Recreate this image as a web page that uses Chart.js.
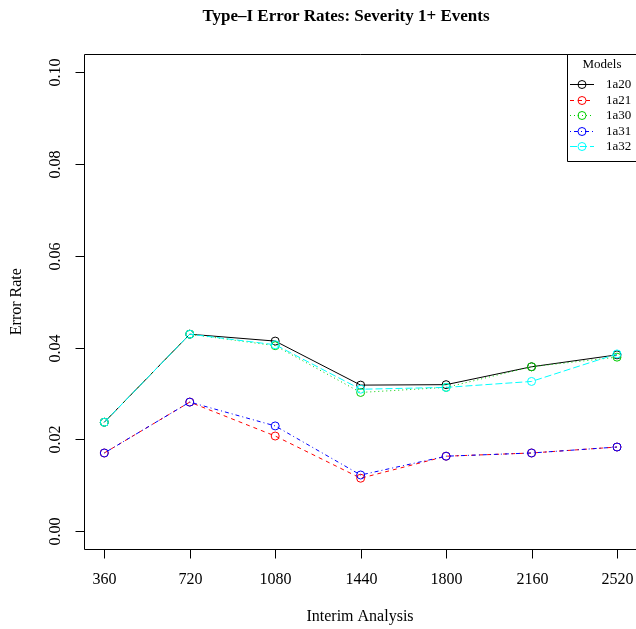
<!DOCTYPE html>
<html>
<head>
<meta charset="utf-8">
<script src="https://cdn.jsdelivr.net/npm/chart.js@4/dist/chart.umd.min.js"></script>
<style>
  html, body { margin: 0; padding: 0; background: #fff; overflow: hidden; }
  #c { display: block; }
</style>
</head>
<body>
<canvas id="c" width="636" height="629"></canvas>
<script>
// Interim analysis sizes (x axis categories / tick labels)
const analyses = [360, 720, 1080, 1440, 1800, 2160, 2520];
// Y tick values
const yTicks = [0.00, 0.02, 0.04, 0.06, 0.08, 0.10];

// Type-I error rates per model
const model1a20 = [0.0237, 0.0429, 0.0414, 0.0318, 0.0319, 0.0358, 0.0384];
const model1a21 = [0.0170, 0.0281, 0.0207, 0.0115, 0.0163, 0.0170, 0.0183];
const model1a30 = [0.0237, 0.0429, 0.0404, 0.0302, 0.0313, 0.0358, 0.0379];
const model1a31 = [0.0170, 0.0281, 0.0229, 0.0122, 0.0163, 0.0170, 0.0183];
const model1a32 = [0.0237, 0.0429, 0.0406, 0.0309, 0.0313, 0.0326, 0.0386];

const modelNames = ['1a20', '1a21', '1a30', '1a31', '1a32'];
const modelValues = [model1a20, model1a21, model1a30, model1a31, model1a32];
const modelColors = ['#000000', '#FF0000', '#00CD00', '#0000FF', '#00FFFF'];
const modelDashes = [[], [4, 4], [1, 3], [1, 3, 4, 3], [7, 3]];

const SERIF = '"Liberation Serif", "DejaVu Serif", serif';

const datasets = modelNames.map((name, i) => ({
  label: name,
  data: analyses.map((a, j) => ({ x: a, y: modelValues[i][j] })),
  borderColor: modelColors[i],
  borderWidth: 1,
  borderDash: modelDashes[i],
  pointRadius: 4,
  pointBorderWidth: 1,
  pointBorderColor: modelColors[i],
  pointBackgroundColor: 'rgba(0,0,0,0)',
  fill: false,
  tension: 0,
  order: modelNames.length - i
}));

// Draws the frame, axes, titles and legend in a base-graphics style
const frame = {
  id: 'frame',
  afterDraw(chart) {
    const ctx = chart.ctx;
    const a = chart.chartArea;
    const xs = chart.scales.x, ys = chart.scales.y;
    const W = chart.width;
    ctx.save();
    ctx.strokeStyle = '#000';
    ctx.fillStyle = '#000';
    ctx.lineWidth = 1;
    ctx.setLineDash([]);

    // plot box (its right side runs past the canvas edge)
    const L = Math.round(a.left) + 0.5, T = Math.round(a.top) + 0.5, B = Math.round(a.bottom) + 0.5;
    ctx.beginPath();
    ctx.moveTo(W + 2, T);
    ctx.lineTo(L, T);
    ctx.lineTo(L, B);
    ctx.lineTo(W + 2, B);
    ctx.stroke();

    // x axis ticks and labels
    ctx.font = '16px ' + SERIF;
    ctx.textAlign = 'center';
    ctx.textBaseline = 'middle';
    analyses.forEach(v => {
      const px = Math.round(xs.getPixelForValue(v)) + 0.5;
      ctx.beginPath();
      ctx.moveTo(px, B);
      ctx.lineTo(px, B + 9);
      ctx.stroke();
      ctx.fillText(String(v), px, 580);
    });

    // y axis ticks and rotated labels
    yTicks.forEach(v => {
      const py = Math.round(ys.getPixelForValue(v)) + 0.5;
      ctx.beginPath();
      ctx.moveTo(L, py);
      ctx.lineTo(L - 9, py);
      ctx.stroke();
      ctx.save();
      ctx.translate(56, py);
      ctx.rotate(-Math.PI / 2);
      ctx.fillText(v.toFixed(2), 0, 0);
      ctx.restore();
    });

    // axis titles
    ctx.fillText('Interim Analysis', 360, 617);
    ctx.save();
    ctx.translate(17, (a.top + a.bottom) / 2);
    ctx.rotate(-Math.PI / 2);
    ctx.fillText('Error Rate', 0, 0);
    ctx.restore();

    // main title
    ctx.font = 'bold 17px ' + SERIF;
    ctx.fillText('Type\u2013I Error Rates: Severity 1+ Events', 346, 17);

    // legend (top-right corner, right side past the canvas edge)
    const lx = 567.5, ly = T, lb = 161.5;
    ctx.fillStyle = '#fff';
    ctx.fillRect(lx, ly, W - lx, lb - ly);
    ctx.strokeStyle = '#000';
    ctx.beginPath();
    ctx.moveTo(W + 2, ly);
    ctx.lineTo(lx, ly);
    ctx.lineTo(lx, lb);
    ctx.lineTo(W + 2, lb);
    ctx.stroke();
    ctx.fillStyle = '#000';
    ctx.font = '13px ' + SERIF;
    ctx.textAlign = 'center';
    ctx.fillText('Models', 602, 65);
    modelNames.forEach((name, i) => {
      const y = Math.round(84 + i * 15.5) + 0.5;
      ctx.strokeStyle = modelColors[i];
      ctx.setLineDash(modelDashes[i]);
      ctx.beginPath();
      ctx.moveTo(570, y);
      ctx.lineTo(594, y);
      ctx.stroke();
      ctx.setLineDash([]);
      ctx.beginPath();
      ctx.arc(582, y, 4, 0, Math.PI * 2);
      ctx.stroke();
      ctx.fillStyle = '#000';
      ctx.textAlign = 'left';
      ctx.fillText(name, 606, y);
    });
    ctx.restore();
  }
};

new Chart(document.getElementById('c'), {
  type: 'line',
  data: { datasets },
  options: {
    responsive: false,
    animation: false,
    events: [],
    layout: { autoPadding: false, padding: { left: 83.5, top: 54, right: 0, bottom: 79.7 } },
    plugins: { legend: { display: false }, tooltip: { enabled: false }, title: { display: false } },
    scales: {
      x: { type: 'linear', display: false, min: 272.4, max: 2600 },
      y: { type: 'linear', display: false, min: -0.004, max: 0.104 }
    }
  },
  plugins: [frame]
});
</script>
</body>
</html>
